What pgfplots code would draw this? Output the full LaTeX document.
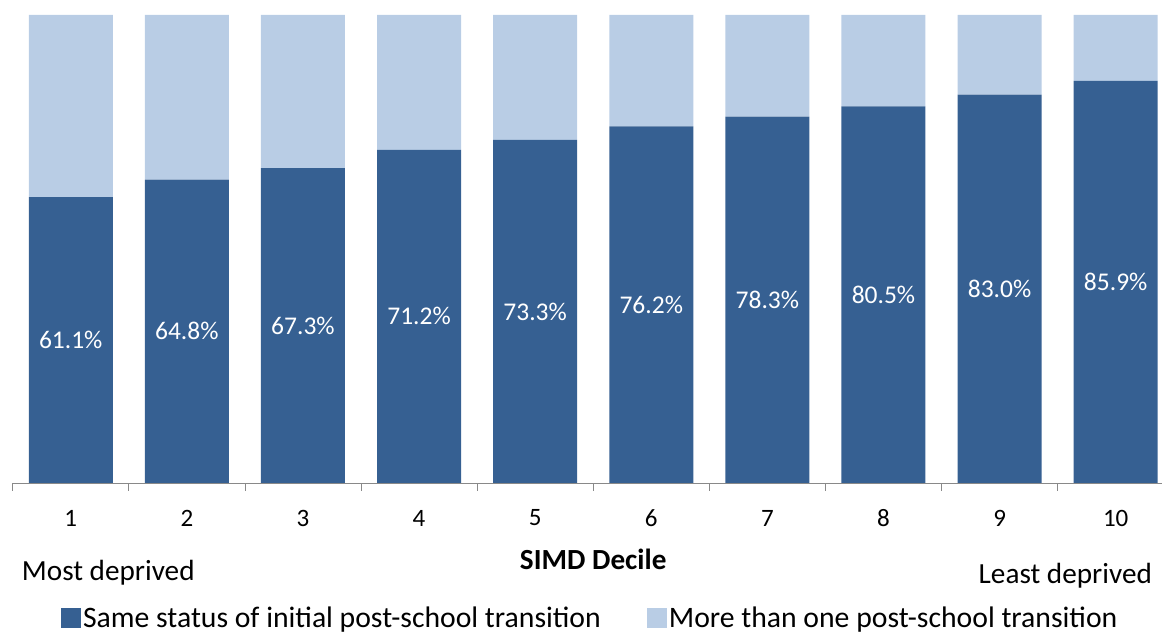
\documentclass[border=0pt]{standalone}
\usepackage{pgfplots}
\pgfplotsset{compat=1.18}
\usepackage{fontspec}
\setmainfont{Carlito}
\definecolor{darkblue}{HTML}{366092}
\definecolor{lightblue}{HTML}{B9CDE5}
\definecolor{axisgray}{HTML}{898989}

\begin{document}
\begin{tikzpicture}
% fix the page to the reference frame (1pt = 1px); the last category runs past the right edge
\useasboundingbox (-12.7pt,-151pt) rectangle (1149.3pt,483pt);
\begin{axis}[
    at={(0pt,0pt)}, anchor=south west,
    width=1161pt, height=468pt, scale only axis,
    ybar stacked, bar width=84pt,
    xmin=-0.5, xmax=9.5, ymin=0, ymax=100,
    axis y line=none, axis x line*=bottom,
    axis line style={draw=axisgray, line width=0.8pt},
    xtick={0,1,2,3,4,5,6,7,8,9},
    xticklabels={1,2,3,4,5,6,7,8,9,10},
    major tick length=0pt,
    extra x ticks={-0.5,0.5,...,9.5},
    extra x tick labels={},
    extra x tick style={major tick length=8pt, tick align=outside,
        tick style={draw=axisgray, line width=0.8pt}},
    xticklabel style={font=\fontsize{25}{30}\selectfont, anchor=center, yshift=-35pt},
    clip=false,
    legend columns=2,
    legend cell align=left,
    legend style={at={(axis description cs:0.5,0)}, anchor=center,
        xshift=-3pt, yshift=-135pt,
        draw=none, fill=none, font=\fontsize{29.7}{35}\selectfont,
        /tikz/every even column/.append style={column sep=44pt}},
    legend image code/.code={\fill[#1] (0pt,-10pt) rectangle (20pt,10pt);},
]
% same status of initial post-school transition (stacked labels sit mid-bar)
\addplot[fill=darkblue, draw=none,
    nodes near coords={\pgfmathprintnumber[fixed,fixed zerofill,precision=1,assume math mode=true]{\pgfplotspointmeta}\%},
    every node near coord/.append style={anchor=center, text=white,
        font=\fontsize{25.5}{30}\selectfont}]
    coordinates {(0,61.1) (1,64.8) (2,67.3) (3,71.2) (4,73.3) (5,76.2) (6,78.3) (7,80.5) (8,83.0) (9,85.9)};
% more than one post-school transition
\addplot[fill=lightblue, draw=none]
    coordinates {(0,38.9) (1,35.2) (2,32.7) (3,28.8) (4,26.7) (5,23.8) (6,21.7) (7,19.5) (8,17.0) (9,14.1)};
\legend{Same status of initial post-school transition, More than one post-school transition}

\node[font=\fontsize{29.2}{35}\selectfont\bfseries, anchor=center]
    at (axis description cs:0.5,0) [yshift=-76pt] {SIMD Decile};
\node[font=\fontsize{29.2}{35}\selectfont, anchor=base west, inner sep=0pt]
    at (axis description cs:0,0) [xshift=9pt, yshift=-97pt] {Most deprived};
\node[font=\fontsize{29.2}{35}\selectfont, anchor=base east, inner sep=0pt]
    at (axis description cs:1,0) [xshift=-21.7pt, yshift=-100pt] {Least deprived};
\end{axis}
\end{tikzpicture}
\end{document}
